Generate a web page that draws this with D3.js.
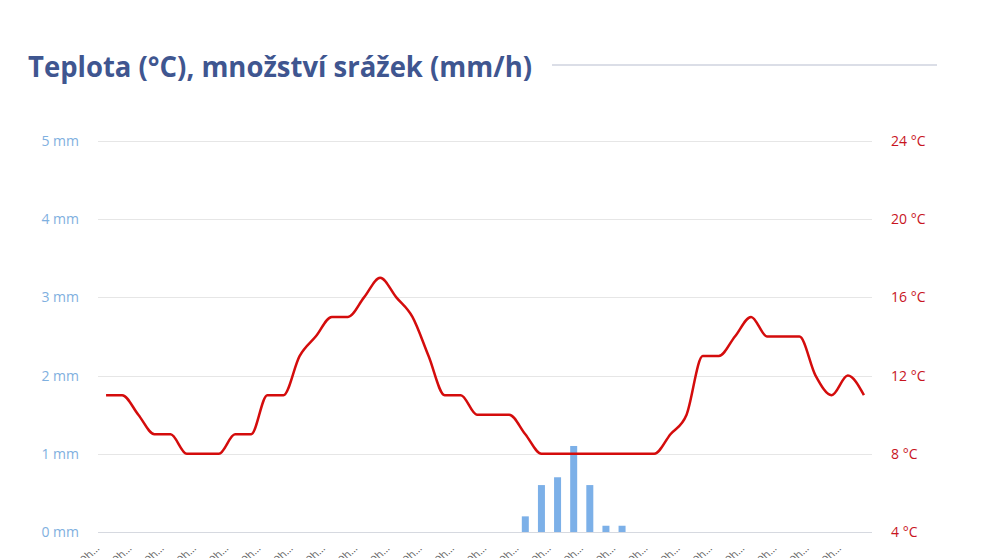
<!DOCTYPE html>
<html>
<head>
<meta charset="utf-8">
<script src="https://cdn.jsdelivr.net/npm/d3@7"></script>
<style>
  html, body { margin: 0; padding: 0; background: #fff; }
  svg { display: block; }
</style>
</head>
<body>
<svg id="chart" width="991" height="558"></svg>
<script>
// ---- data ----
const titleText = "Teplota (°C), množství srážek (mm/h)";
const hours = ["0","1","2","3","4","5","6","7","8","9","10","11","12","13","14","15","16","17","18","19","20","21","22","23"];
const tickLabels = hours.map(h => h + ":00h…");
const temperature = [11,11,10,9,9,8,8,8,9,9,11,11,13,14,15,15,16,17,16,15,13,11,11,10,10,10,9,8,8,8,8,8,8,8,8,9,10,13,13,14,15,14,14,14,12,11,12,11];
const precipitation = [0,0,0,0,0,0,0,0,0,0,0,0,0,0,0,0,0,0,0,0,0,0,0,0,0,0,0.2,0.6,0.7,1.1,0.6,0.08,0.08,0,0,0,0,0,0,0,0,0,0,0,0,0,0,0];
const mmTicks = [0,1,2,3,4,5];
const tempTicks = [4,8,12,16,20,24];

// ---- layout ----
const svg = d3.select("#chart");
const plotLeft = 98, plotRight = 872, plotTop = 141, plotBottom = 532;

const x = d3.scaleBand().domain(d3.range(temperature.length)).range([plotLeft, plotRight]).paddingInner(0).paddingOuter(0);
const cx = i => x(i) + x.bandwidth() / 2;
const yL = d3.scaleLinear().domain([0, 5]).range([plotBottom, plotTop]);
const yR = d3.scaleLinear().domain([4, 24]).range([plotBottom, plotTop]);

// title
const title = svg.append("text")
  .attr("x", 28).attr("y", 77)
  .attr("font-family", "'Open Sans', 'Noto Sans', sans-serif")
  .attr("font-weight", 700)
  .attr("font-size", 28)
  .attr("fill", "#3f5690")
  .text(titleText);
title.attr("textLength", 504).attr("lengthAdjust", "spacingAndGlyphs");
svg.append("line").attr("x1", 552).attr("x2", 937).attr("y1", 65).attr("y2", 65)
  .attr("stroke", "#cfd3df").attr("stroke-width", 1.5);

// grid
svg.append("g").selectAll("line").data(mmTicks).join("line")
  .attr("x1", plotLeft).attr("x2", plotRight)
  .attr("y1", d => Math.round(yL(d)) + 0.5).attr("y2", d => Math.round(yL(d)) + 0.5)
  .attr("stroke", d => d === 0 ? "#d6d9e0" : "#e6e6e6").attr("stroke-width", 1);

// left axis labels
svg.append("g").selectAll("text").data(mmTicks).join("text")
  .attr("x", 79).attr("y", d => yL(d) + 5)
  .attr("text-anchor", "end")
  .attr("font-family", "'Open Sans', sans-serif").attr("font-size", 14)
  .attr("fill", "#7fb0e0")
  .text(d => d + " mm");

// right axis labels
svg.append("g").selectAll("text").data(tempTicks).join("text")
  .attr("x", 891).attr("y", d => yR(d) + 5)
  .attr("text-anchor", "start")
  .attr("font-family", "'Open Sans', sans-serif").attr("font-size", 14)
  .attr("fill", "#c8141e")
  .text(d => d + " °C");

// bars
const bw = 7;
svg.append("g").selectAll("rect").data(precipitation.map((v, i) => ({v, i})).filter(d => d.v > 0)).join("rect")
  .attr("x", d => cx(d.i) - bw / 2)
  .attr("width", bw)
  .attr("y", d => yL(d.v))
  .attr("height", d => yL(0) - yL(d.v))
  .attr("fill", "#7cb0e8");

// temperature line
const line = d3.line().x((d, i) => cx(i)).y(d => yR(d)).curve(d3.curveMonotoneX);
svg.append("path").datum(temperature)
  .attr("d", line)
  .attr("fill", "none")
  .attr("stroke", "#d40c0c")
  .attr("stroke-width", 2.5)
  .attr("stroke-linejoin", "round");

// x labels (rotated, cut off at bottom)
svg.append("g").selectAll("text").data(tickLabels).join("text")
  .attr("transform", (d, k) => `translate(${cx(2 * k) - 6},${549}) rotate(-45)`)
  .attr("text-anchor", "end")
  .attr("font-family", "'Open Sans', sans-serif").attr("font-size", 11)
  .attr("fill", "#666")
  .text(d => d);
</script>
</body>
</html>
